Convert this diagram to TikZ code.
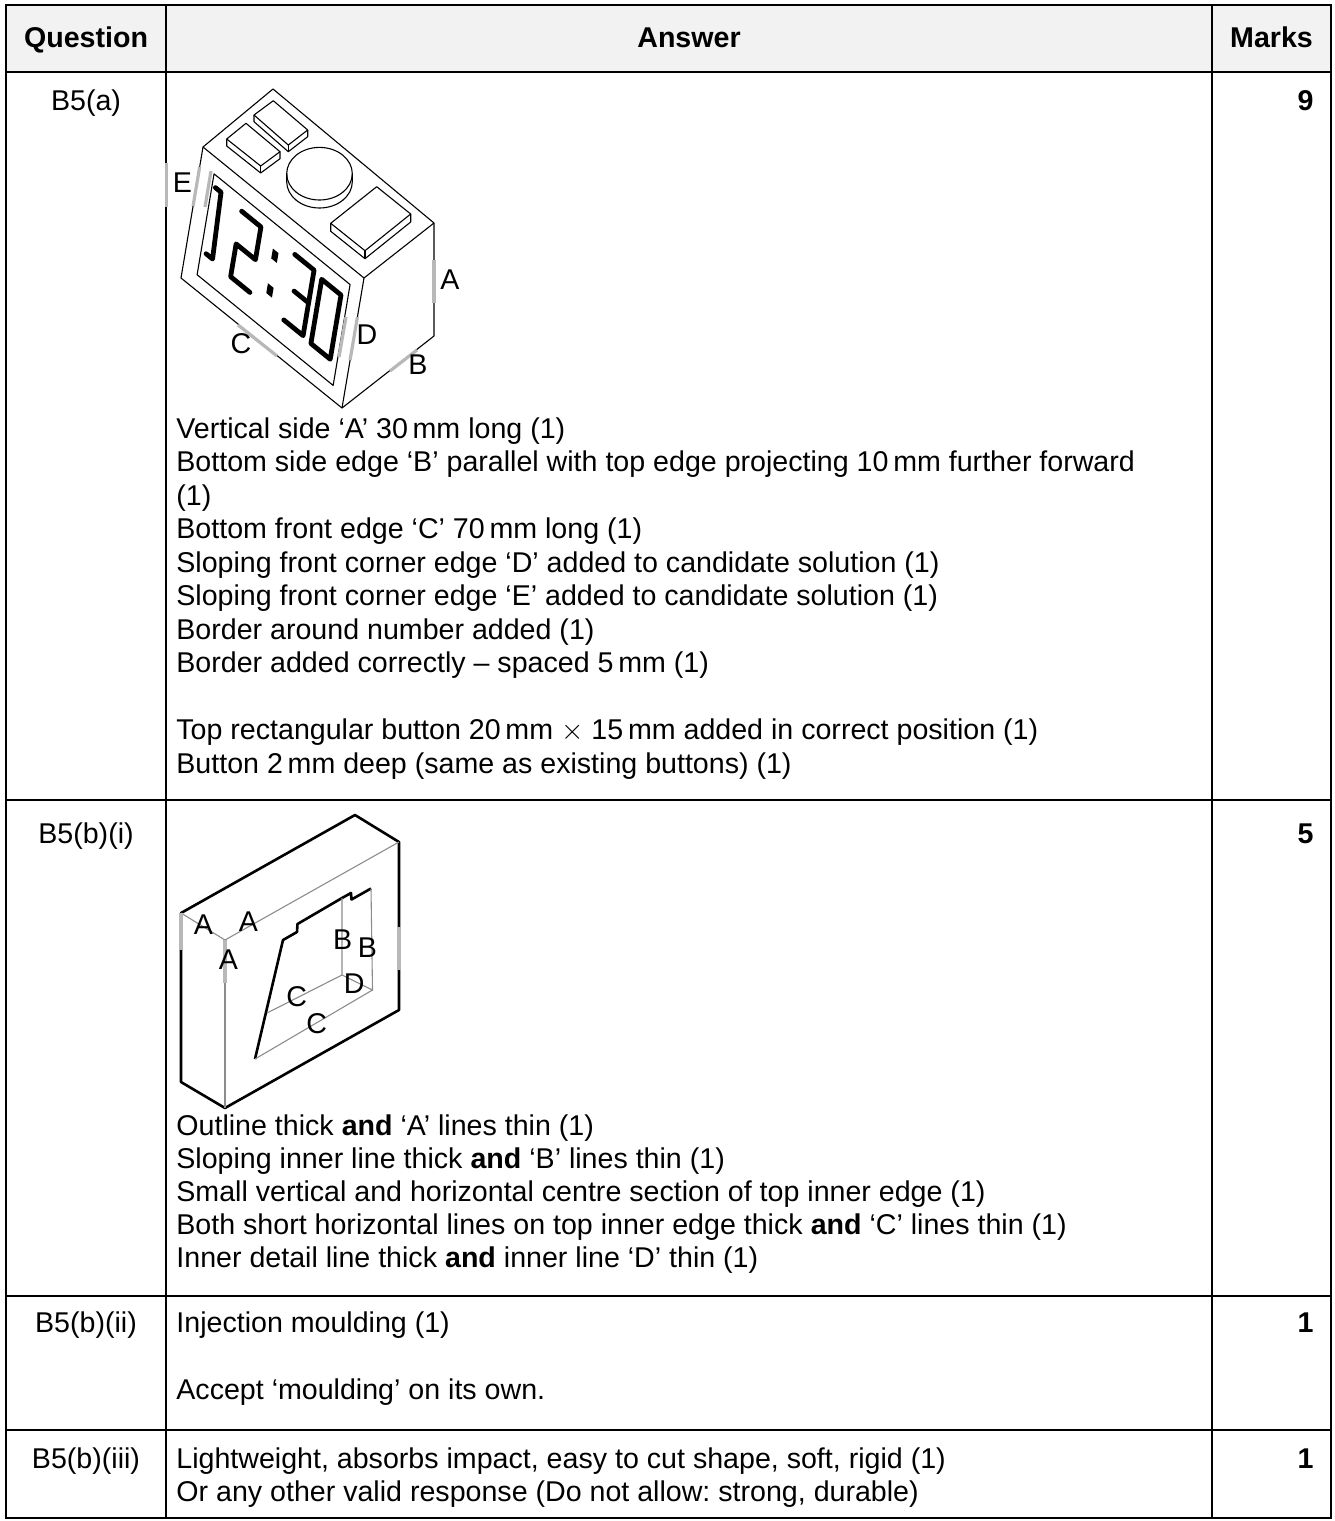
\documentclass[tikz,border=0pt]{standalone}
\usepackage{fontspec}
\setmainfont{Liberation Sans}
\usepackage{amsmath,amssymb}

\tikzset{
  txt/.style={font=\fontsize{14.3}{16.75}\selectfont, inner sep=0pt},
  body/.style={txt, anchor=base west},
  headtxt/.style={txt, font=\fontsize{14.3}{16.75}\selectfont\bfseries, anchor=base},
  qtxt/.style={txt, anchor=base},
  marknum/.style={txt, font=\fontsize{14.3}{16.75}\selectfont\bfseries, anchor=base east},
  lbl/.style={txt, anchor=center},
  grid/.style={line width=1.2pt},
  edge/.style={line width=0.55pt, line join=round},
  heavy/.style={line width=1.3pt, line join=round},
  faint/.style={line width=0.55pt, black!45},
  hilite/.style={line width=1.6pt, black!28},
  seg/.style={line width=2.4pt, line cap=round, line join=round},
}

\begin{document}
\frenchspacing
\begin{tikzpicture}[x=0.5pt, y=-0.5pt]
\useasboundingbox (0,0) rectangle (1334,1521);

% table
\fill[black!5] (6,5) rectangle (1331,72);
\draw[grid] (6,5) rectangle (1331,1518);
\draw[grid] (6,72) -- (1331,72);
\draw[grid] (6,800) -- (1331,800);
\draw[grid] (6,1296) -- (1331,1296);
\draw[grid] (6,1430) -- (1331,1430);
\draw[grid] (166,5) -- (166,1518);
\draw[grid] (1212,5) -- (1212,1518);

\node[headtxt] (hq) at (86,47) {Question};
\node[headtxt] (ha) at (689,47) {Answer};
\node[headtxt] (hm) at (1271.5,47) {Marks};

\node[qtxt] (q1) at (86,110) {B5(a)};
\node[qtxt] (q2) at (86,843) {B5(b)(i)};
\node[qtxt] (q3) at (86,1332) {B5(b)(ii)};
\node[qtxt] (q4) at (86,1468) {B5(b)(iii)};

\node[marknum] (m1) at (1314,110) {9};
\node[marknum] (m2) at (1314,843) {5};
\node[marknum] (m3) at (1314,1332) {1};
\node[marknum] (m4) at (1314,1468) {1};

% clock
\draw[edge] (273,89) -- (203,147) -- (181,278) -- (342,408) -- (434,336) -- (434,223) -- cycle;
\draw[edge] (203,147) -- (364,278) -- (434,223);
\draw[edge] (364,278) -- (342,408);
% buttons
\draw[edge] (226.7,139) -- (246,123.3) -- (280,151.7) -- (260.7,166) -- cycle;
\draw[edge] (226.7,139) -- (226.7,146) -- (260.7,173) -- (280,158.7) -- (280,151.7);
\draw[edge] (260.7,166) -- (260.7,173);
\draw[edge] (254,115) -- (273.3,100.7) -- (307.7,130) -- (288.3,145) -- cycle;
\draw[edge] (254,115) -- (254,121.7) -- (288.3,151.7) -- (307.7,136.7) -- (307.7,130);
\draw[edge] (288.3,145) -- (288.3,151.7);
\draw[edge] (330.7,223.3) -- (376.7,186.7) -- (410.7,214) -- (365,250.7) -- cycle;
\draw[edge] (330.7,223.3) -- (330.7,231.3) -- (365,258.7) -- (410.7,222) -- (410.7,214);
\draw[edge] (365,250.7) -- (365,258.7);
\draw[edge] (319.5,173.7) ellipse [x radius=16.4pt, y radius=13.15pt];
\draw[edge] (286.7,173.7) -- (286.7,181.7) arc [start angle=180, end angle=360, x radius=16.4pt, y radius=13.15pt] -- (352.3,173.7);
% display on the front face
\begin{scope}[shift={(203,147)}, x={(80.5pt,-65.5pt)}, y={(-11pt,-65.5pt)}]
\draw[edge] (0.085,0.12) -- (0.93,0.12) -- (0.93,0.89) -- (0.085,0.89) -- cycle;
\draw[seg] (0.105,0.205) -- (0.14,0.205) -- (0.155,0.70) -- (0.115,0.70);
\draw[seg] (0.27,0.22) -- (0.39,0.22) -- (0.39,0.47) -- (0.27,0.47) -- (0.27,0.72) -- (0.39,0.72);
\fill (0.475,0.30) -- (0.51,0.30) -- (0.51,0.375) -- (0.475,0.375) -- cycle;
\fill (0.48,0.56) -- (0.515,0.56) -- (0.515,0.635) -- (0.48,0.635) -- cycle;
\draw[seg] (0.60,0.22) -- (0.72,0.22) -- (0.72,0.72) -- (0.60,0.72);
\draw[seg] (0.63,0.47) -- (0.72,0.47);
\draw[seg] (0.77,0.24) -- (0.89,0.24) -- (0.89,0.73) -- (0.77,0.73) -- cycle;
\end{scope}
% marked edges
\draw[hilite] (166.5,163) -- (166.5,207);
\draw[hilite] (199.7,166.7) -- (193.1,206);
\draw[hilite] (211,171) -- (205,207);
\draw[hilite] (434,260) -- (434,303);
\draw[hilite] (390,371) -- (417,350);
\draw[hilite] (238,325) -- (277,356);
\draw[hilite] (357.4,317) -- (350.1,360);
\draw[hilite] (346,317) -- (339,357);
\node[lbl] (le) at (182.5,183) {E};
\node[lbl] (la) at (450,280) {A};
\node[lbl] (ld) at (367,335) {D};
\node[lbl] (lc) at (241,344) {C};
\node[lbl] (lb) at (418,365) {B};

\node[body] (a1) at (176,438) {Vertical side ‘A’ 30\,mm long (1)};
\node[body] (a2) at (176,471.5) {Bottom side edge ‘B’ parallel with top edge projecting 10\,mm further forward};
\node[body] (a3) at (176,505) {(1)};
\node[body] (a4) at (176,538.5) {Bottom front edge ‘C’ 70\,mm long (1)};
\node[body] (a5) at (176,572) {Sloping front corner edge ‘D’ added to candidate solution (1)};
\node[body] (a6) at (176,605.5) {Sloping front corner edge ‘E’ added to candidate solution (1)};
\node[body] (a7) at (176,639) {Border around number added (1)};
\node[body] (a8) at (176,672.5) {Border added correctly – spaced 5\,mm (1)};
\node[body] (a9) at (176,739.5) {Top rectangular button 20\,mm $\times$ 15\,mm added in correct position (1)};
\node[body] (a10) at (176,773) {Button 2\,mm deep (same as existing buttons) (1)};

% frame
\draw[heavy] (181,913) -- (355,815) -- (399,842) -- (399,1010) -- (225,1108) -- (181,1082) -- cycle;
\draw[faint] (181,913) -- (225,940) -- (399,842);
\draw[faint] (225,940) -- (225,1108);
\draw[heavy] (255,1059) -- (283,940) -- (297,932) -- (297.5,924) -- (342,898) -- (351,893) -- (351.5,899.5) -- (371,888.5);
\draw[faint] (342,898) -- (342,975) -- (372.5,990) -- (371,888.5);
\draw[faint] (342,975) -- (267,1013);
\draw[faint] (372.5,990) -- (255,1059);
\draw[hilite] (181,913) -- (181,950);
\draw[hilite] (399,927) -- (399,970);
\draw[hilite] (225,940) -- (225,983);
\node[lbl] (fa1) at (203.3,925) {A};
\node[lbl] (fa2) at (248.3,921.7) {A};
\node[lbl] (fa3) at (228.3,960) {A};
\node[lbl] (fb1) at (342.7,940) {B};
\node[lbl] (fb2) at (367.3,947.3) {B};
\node[lbl] (fc1) at (296.7,996.7) {C};
\node[lbl] (fd) at (354.3,983.3) {D};
\node[lbl] (fc2) at (316.7,1024) {C};

\node[body] (b1) at (176,1135) {Outline thick \textbf{and} ‘A’ lines thin (1)};
\node[body] (b2) at (176,1168) {Sloping inner line thick \textbf{and} ‘B’ lines thin (1)};
\node[body] (b3) at (176,1201) {Small vertical and horizontal centre section of top inner edge (1)};
\node[body] (b4) at (176,1234) {Both short horizontal lines on top inner edge thick \textbf{and} ‘C’ lines thin (1)};
\node[body] (b5) at (176,1267) {Inner detail line thick \textbf{and} inner line ‘D’ thin (1)};

\node[body] (c1) at (176,1332) {Injection moulding (1)};
\node[body] (c2) at (176,1399) {Accept ‘moulding’ on its own.};

\node[body] (d1) at (176,1468) {Lightweight, absorbs impact, easy to cut shape, soft, rigid (1)};
\node[body] (d2) at (176,1501) {Or any other valid response (Do not allow: strong, durable)};
\end{tikzpicture}
\end{document}
